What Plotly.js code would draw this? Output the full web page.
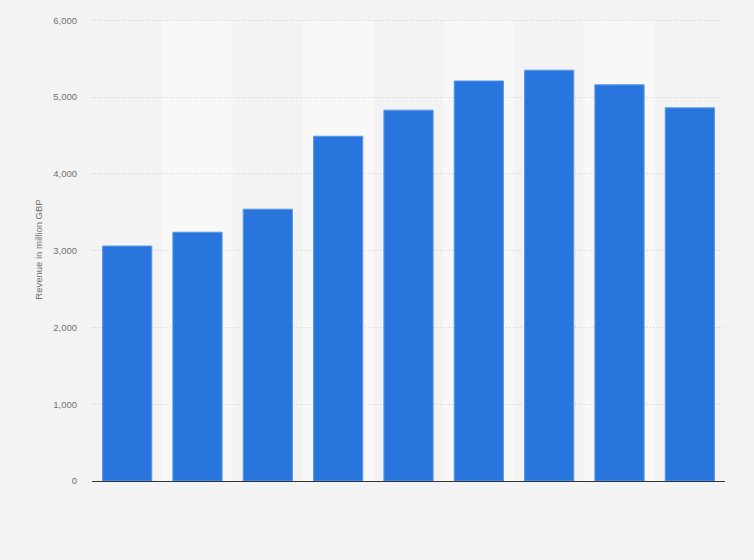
<!DOCTYPE html>
<html>
<head>
<meta charset="utf-8">
<script src="https://cdn.plot.ly/plotly-3.0.1.min.js"></script>
<style>
  html, body { margin: 0; padding: 0; background: #f3f3f3; }
  #chart { width: 754px; height: 560px; }
</style>
</head>
<body>
<div id="chart"></div>
<script>
// bars left to right, no category labels shown in the source
const categories = ['1', '2', '3', '4', '5', '6', '7', '8', '9'];
const revenue = [3060, 3240, 3540, 4490, 4830, 5210, 5350, 5160, 4860];
const yTicks = [0, 1000, 2000, 3000, 4000, 5000, 6000];
const yTickLabels = ['0', '1,000', '2,000', '3,000', '4,000', '5,000', '6,000'];

// lighter background band behind every second category
const bands = categories
  .map((c, i) => i)
  .filter(i => i % 2 === 1)
  .map(i => ({
    type: 'rect', layer: 'below',
    xref: 'x', yref: 'y',
    x0: i - 0.5, x1: i + 0.5, y0: 0, y1: 6000,
    fillcolor: '#f8f8f8', line: { width: 0 }
  }));

const data = [{
  type: 'bar',
  x: categories,
  y: revenue,
  width: 0.7,
  marker: {
    color: '#2876dd',
    line: { color: '#5b98e8', width: 1 }
  },
  hoverinfo: 'y'
}];

const layout = {
  width: 754,
  height: 560,
  margin: { l: 92, r: 29, t: 18, b: 79 },
  paper_bgcolor: '#f3f3f3',
  plot_bgcolor: '#f3f3f3',
  font: { family: 'Liberation Sans, Arial, sans-serif', color: '#707070', size: 9.5 },
  showlegend: false,
  bargap: 0.3,
  shapes: bands,
  xaxis: {
    type: 'category',
    showticklabels: false,
    showgrid: false,
    zeroline: false,
    showline: true,
    linecolor: '#333',
    linewidth: 1,
    ticks: ''
  },
  yaxis: {
    range: [0, 6030],
    tickvals: yTicks,
    ticktext: yTickLabels,
    showgrid: true,
    gridcolor: '#cfcfcf',
    griddash: '1px,2px',
    gridwidth: 1,
    zeroline: false,
    showline: false,
    ticks: '',
    ticklabelstandoff: 14,
    tickfont: { size: 9.5, color: '#707070' },
    title: { text: 'Revenue in million GBP', font: { size: 9.5, color: '#707070' }, standoff: 8 }
  }
};

Plotly.newPlot('chart', data, layout, { displayModeBar: false, staticPlot: true });
</script>
</body>
</html>
